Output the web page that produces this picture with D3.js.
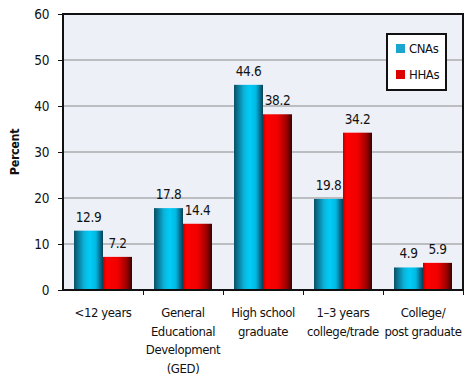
<!DOCTYPE html>
<html>
<head>
<meta charset="utf-8">
<script src="https://cdn.jsdelivr.net/npm/d3@7"></script>
<style>
  body { margin: 0; background: #fff; }
  svg text { font-family: "Liberation Sans Narrow", "DejaVu Sans Condensed", sans-serif; fill: #111; letter-spacing: -0.4px; }
</style>
</head>
<body>
<div id="chart"></div>
<script>
const categories = [
  ['<12 years'],
  ['General', 'Educational', 'Development', '(GED)'],
  ['High school', 'graduate'],
  ['1\u20133 years', 'college/trade'],
  ['College/', 'post graduate']
];
const seriesNames = ['CNAs', 'HHAs'];
const cnaValues = [12.9, 17.8, 44.6, 19.8, 4.9];
const hhaValues = [7.2, 14.4, 38.2, 34.2, 5.9];
const yTicks = [0, 10, 20, 30, 40, 50, 60];

const width = 474, height = 384;
const margin = {top: 14, right: 11, bottom: 94, left: 63};
const innerW = width - margin.left - margin.right;
const innerH = height - margin.top - margin.bottom;
const fontSize = 13.5;

const svg = d3.select('#chart')
  .append('svg')
    .attr('width', width)
    .attr('height', height);

const defs = svg.append('defs');
const cnaGrad = defs.append('linearGradient').attr('id', 'gradCNA');
[[0, '#0b4f66'], [0.35, '#0ab4dc'], [0.55, '#00cdf7'], [0.75, '#00b8e4'], [1, '#0a3f55']]
  .forEach(([o, c]) => cnaGrad.append('stop').attr('offset', o).attr('stop-color', c));
const hhaGrad = defs.append('linearGradient').attr('id', 'gradHHA');
[[0, '#c00000'], [0.12, '#ff0000'], [0.5, '#f00000'], [0.8, '#a00000'], [1, '#3a0000']]
  .forEach(([o, c]) => hhaGrad.append('stop').attr('offset', o).attr('stop-color', c));
const fills = ['url(#gradCNA)', 'url(#gradHHA)'];
const swatch = ['#1aa6cf', '#dd0000'];

const g = svg.append('g')
  .attr('transform', `translate(${margin.left}, ${margin.top})`);

const x = d3.scaleBand()
  .domain(d3.range(categories.length))
  .range([0, innerW])
  .padding(0);

const xSeries = d3.scaleBand()
  .domain(seriesNames)
  .range([11, x.bandwidth() - 11])
  .padding(0);

const y = d3.scaleLinear()
  .domain([0, 60])
  .range([innerH, 0]);

g.append('rect')
  .attr('width', innerW)
  .attr('height', innerH)
  .attr('fill', '#eef0f8');

g.append('g')
  .selectAll('line')
  .data(yTicks.filter(t => t > 0 && t < 60))
  .join('line')
    .attr('x1', 0)
    .attr('x2', innerW)
    .attr('y1', d => y(d))
    .attr('y2', d => y(d))
    .attr('stroke', '#8a8a8a')
    .attr('stroke-width', 1);

const data = categories.map((c, i) => ({i, values: [cnaValues[i], hhaValues[i]]}));

const groups = g.selectAll('.group')
  .data(data)
  .join('g')
    .attr('class', 'group')
    .attr('transform', d => `translate(${x(d.i)}, 0)`);

groups.selectAll('rect')
  .data(d => d.values.map((v, k) => ({v, k})))
  .join('rect')
    .attr('x', d => xSeries(seriesNames[d.k]))
    .attr('y', d => y(d.v))
    .attr('width', xSeries.bandwidth())
    .attr('height', d => y(0) - y(d.v))
    .attr('fill', d => fills[d.k]);

groups.selectAll('text.val')
  .data(d => d.values.map((v, k) => ({v, k})))
  .join('text')
    .attr('class', 'val')
    .attr('x', d => xSeries(seriesNames[d.k]) + xSeries.bandwidth() / 2)
    .attr('y', d => y(d.v) - 9)
    .attr('text-anchor', 'middle')
    .attr('font-size', fontSize)
    .text(d => d.v.toFixed(1));

// y axis
const yAxis = g.append('g')
  .call(d3.axisLeft(y).tickValues(yTicks).tickSize(5).tickPadding(9));
yAxis.select('.domain').remove();
yAxis.selectAll('line').attr('stroke', '#111');
yAxis.selectAll('text').attr('font-size', fontSize).attr('dy', '0.35em');

// x axis
const xAxis = g.append('g')
  .attr('transform', `translate(0, ${innerH})`)
  .call(d3.axisBottom(d3.scaleLinear().domain([0, categories.length]).range([0, innerW]))
    .tickValues(d3.range(1, categories.length + 1)).tickSize(5).tickFormat(''));
xAxis.select('.domain').remove();
xAxis.selectAll('line').attr('stroke', '#111');

const labels = g.append('g')
  .selectAll('text')
  .data(categories)
  .join('text')
    .attr('x', (d, i) => x(i) + x.bandwidth() / 2)
    .attr('y', innerH + 27)
    .attr('text-anchor', 'middle')
    .attr('font-size', 13);
labels.selectAll('tspan')
  .data(d => d)
  .join('tspan')
    .attr('x', function() { return this.parentNode.getAttribute('x'); })
    .attr('dy', (d, i) => i === 0 ? 0 : 18.5)
    .text(d => d);

// frame
g.append('rect')
  .attr('width', innerW)
  .attr('height', innerH)
  .attr('fill', 'none')
  .attr('stroke', '#111')
  .attr('stroke-width', 2);

// y label
svg.append('text')
  .attr('transform', `translate(19, ${margin.top + innerH / 2}) rotate(-90)`)
  .attr('text-anchor', 'middle')
  .attr('font-size', 12.5)
  .attr('font-weight', 'bold')
  .text('Percent');

// legend
const legend = g.append('g')
  .attr('transform', `translate(${387 - margin.left}, ${34 - margin.top})`);
legend.append('rect')
  .attr('width', 59)
  .attr('height', 56)
  .attr('fill', '#fff')
  .attr('stroke', '#111')
  .attr('stroke-width', 2);
seriesNames.forEach((name, k) => {
  legend.append('rect')
    .attr('x', 9)
    .attr('y', 10 + k * 26)
    .attr('width', 9)
    .attr('height', 9)
    .attr('fill', swatch[k]);
  legend.append('text')
    .attr('x', 22)
    .attr('y', 14.5 + k * 26)
    .attr('dy', '0.35em')
    .attr('font-size', 13)
    .text(name);
});
</script>
</body>
</html>
